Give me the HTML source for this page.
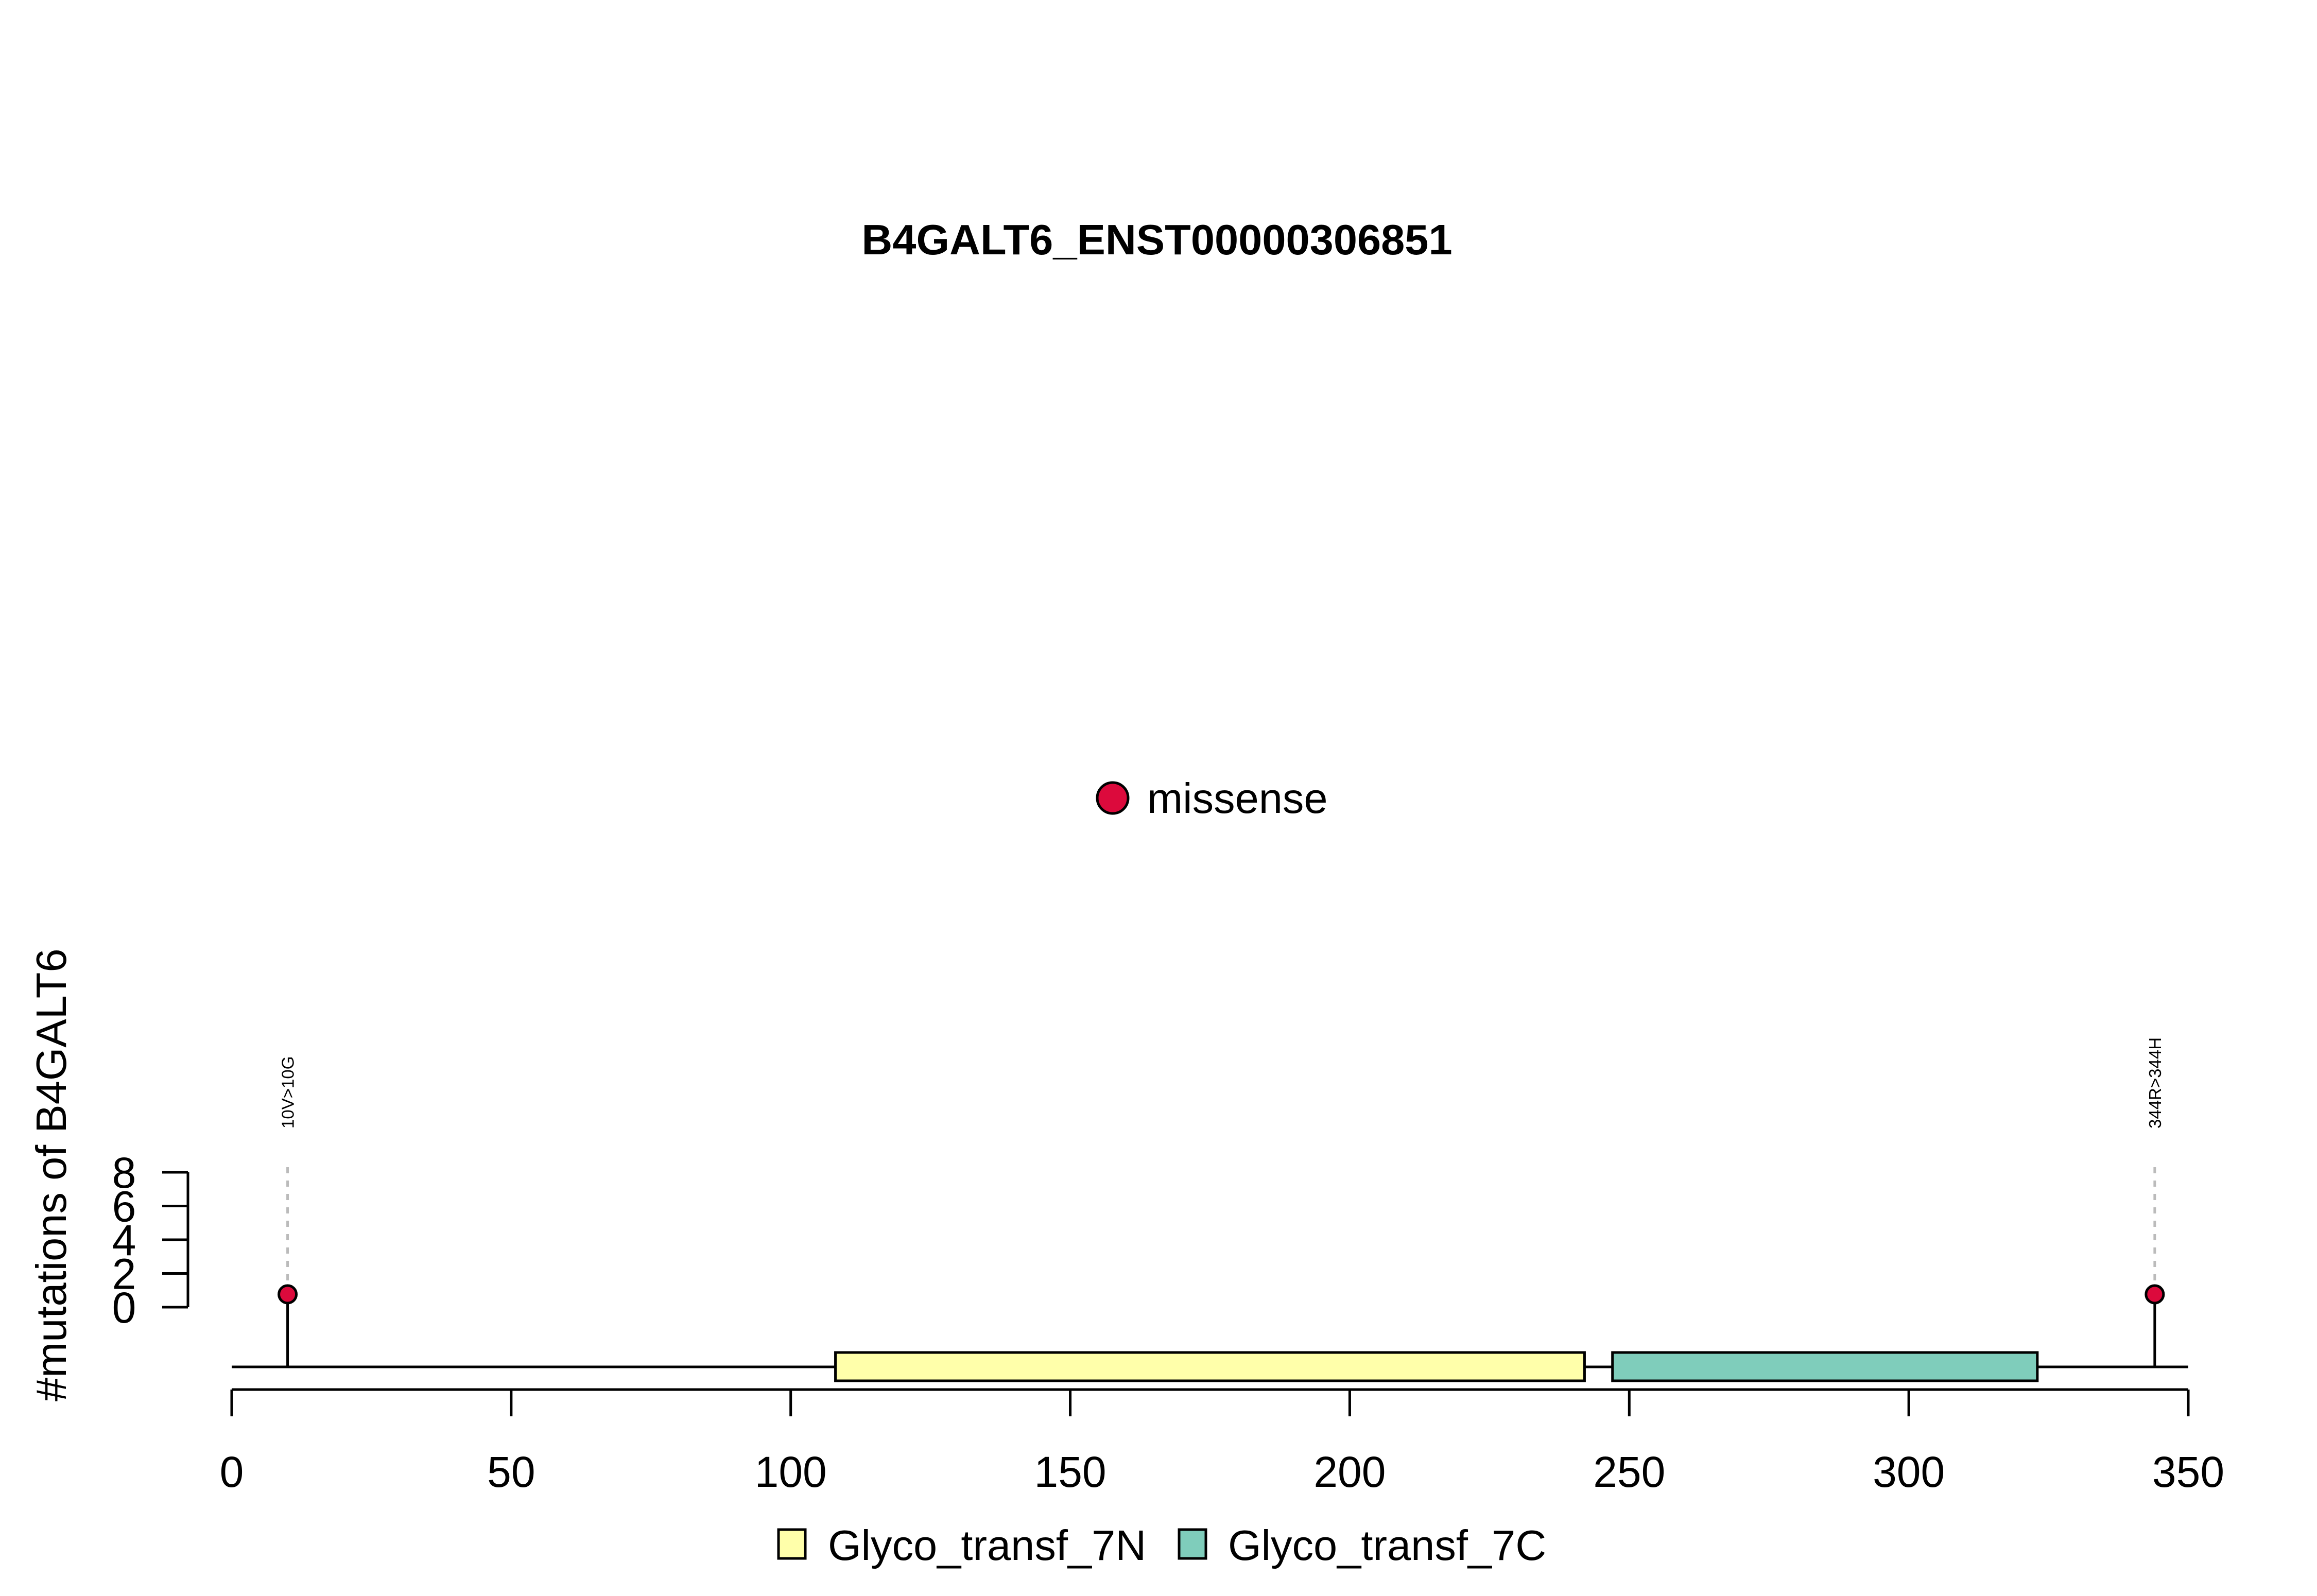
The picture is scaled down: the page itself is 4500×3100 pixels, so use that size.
<!DOCTYPE html>
<html><head><meta charset="utf-8"><style>html,body{margin:0;padding:0;background:#fff}svg{display:block}</style></head>
<body>
<svg id="chart" width="4500" height="3100" viewBox="0 0 4500 3100" xmlns="http://www.w3.org/2000/svg" font-family="'Liberation Sans', Arial, sans-serif">
<rect width="4500" height="3100" fill="#fff"/>
<text x="2247" y="494" font-size="83" font-weight="bold" text-anchor="middle">B4GALT6_ENST00000306851</text>
<g>
<circle cx="2161" cy="1550" r="30" fill="#DC0A3C" stroke="#000" stroke-width="5"/>
<text x="2228" y="1579" font-size="83">missense</text>
</g>
<text transform="translate(128,2722) rotate(-90)" font-size="83">#mutations of B4GALT6</text>
<g id="plot"></g>
<g>
<rect x="1512" y="2971" width="52" height="56" fill="#FFFFAA" stroke="#000" stroke-width="5"/>
<text x="1608" y="3030" font-size="83">Glyco_transf_7N</text>
<rect x="2290" y="2971" width="52" height="56" fill="#7FCDBB" stroke="#000" stroke-width="5"/>
<text x="2385" y="3030" font-size="83">Glyco_transf_7C</text>
</g>
</svg>
<script>
const xTicks = [0, 50, 100, 150, 200, 250, 300, 350];
const yTicks = [0, 2, 4, 6, 8];
const mutPositions = [10, 344];
const mutCounts = [1, 1];
const mutLabels = ["10V>10G", "344R>344H"];
const domainNames = ["Glyco_transf_7N", "Glyco_transf_7C"];
const domainStarts = [108, 247];
const domainEnds = [242, 323];
const domainColors = ["#FFFFAA", "#7FCDBB"];
const proteinLength = 350;

const NS = "http://www.w3.org/2000/svg";
const g = document.getElementById('plot');
const X0 = 450, X1 = 4250;
const xs = v => X0 + (v / 350) * (X1 - X0);
const Y0 = 2539, Y8 = 2277;
const ys = v => Y0 + (v / 8) * (Y8 - Y0);
function mk(tag, attrs) { const e = document.createElementNS(NS, tag); for (const k in attrs) e.setAttribute(k, attrs[k]); g.appendChild(e); return e; }

let ax = mk('line', {x1: xs(0), x2: xs(350), y1: 2699, y2: 2699, stroke: '#000', 'stroke-width': 5});


xTicks.forEach(t => {
  const l = mk('line', {x1: xs(t), x2: xs(t), y1: 2699, y2: 2751, stroke: '#000', 'stroke-width': 5});
  
  
  const tx = mk('text', {x: xs(t), y: 2888, 'font-size': 84, 'text-anchor': 'middle'});
  tx.textContent = t;
  
  
});
let ay = mk('line', {x1: 365, x2: 365, y1: ys(0), y2: ys(8), stroke: '#000', 'stroke-width': 5});


yTicks.forEach(t => {
  const l = mk('line', {x1: 315, x2: 365, y1: ys(t), y2: ys(t), stroke: '#000', 'stroke-width': 5});
  
  
  const tx = mk('text', {x: 241, y: ys(t) + 30, 'font-size': 84, 'text-anchor': 'middle'});
  tx.textContent = t;
  
  
});
let bb = mk('line', {x1: xs(0), x2: xs(proteinLength), y1: 2655, y2: 2655, stroke: '#000', 'stroke-width': 5});


domainNames.forEach((n, i) => {
  const r = mk('rect', {x: xs(domainStarts[i]), y: 2627, width: xs(domainEnds[i]) - xs(domainStarts[i]), height: 55, fill: domainColors[i], stroke: '#000', 'stroke-width': 5});
  
  
});
mutPositions.forEach((p, i) => {
  const x = xs(p);
  const cy = 2514 - (mutCounts[i] - 1) * (Y0 - Y8) / 8;
  const d = mk('line', {x1: x, x2: x, y1: 2267, y2: cy, stroke: '#bbb', 'stroke-width': 5, 'stroke-dasharray': '12 14'});
  
  
  const s = mk('line', {x1: x, x2: x, y1: cy, y2: 2655, stroke: '#000', 'stroke-width': 5});
  
  
  const c = mk('circle', {cx: x, cy: cy, r: 17, fill: '#DC0A3C', stroke: '#000', 'stroke-width': 5});
  
  
  const t = mk('text', {transform: `translate(${x + 12},2192) rotate(-90)`, 'font-size': 33});
  t.textContent = mutLabels[i];
  
  
});
</script>
</body></html>
